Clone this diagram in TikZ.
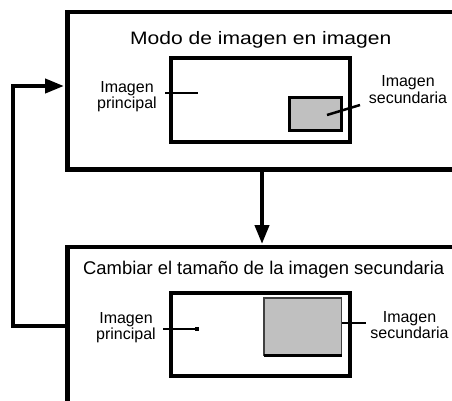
\documentclass[tikz,border=0pt]{standalone}
\usepackage{fontspec}
\usepackage{graphicx}
\setmainfont{Liberation Sans}
\usetikzlibrary{arrows.meta}
\definecolor{boxgrey}{HTML}{C0C0C0}
\begin{document}
\begin{tikzpicture}[x=1pt,y=-1pt,
  bigbox/.style={line width=4.5pt},
  inbox/.style={line width=4pt},
  lbl/.style={font=\fontsize{16}{16.5}\selectfont, align=center, inner sep=0pt},
  ttl/.style={inner sep=0pt, anchor=base west},
  conn/.style={line width=4pt, line join=miter, -{Triangle[length=19pt,width=14pt]}},
  ptr/.style={line width=2.5pt},
  thinptr/.style={line width=1.5pt}]
\useasboundingbox (0,0) rectangle (452,400);
\clip (0,0) rectangle (452,400);

% top big box
\draw[bigbox] (67.5,12) rectangle (480,169.5);
\node[ttl, font=\fontsize{18}{20}\selectfont] (t1) at (130,44) {\scalebox{1.17}[1]{Modo de imagen en imagen}};
\draw[inbox] (170.5,57.5) rectangle (350,141.5);
\draw[line width=3pt, fill=boxgrey] (289,97.5) rectangle (341,130);
\node[lbl] (p1) at (127,96.5) {Imagen\\principal};
\node[lbl] (s1) at (408,89.5) {Imagen\\secundaria};
\coordinate (p1a) at (165,93);
\coordinate (p1b) at (198,93);
\draw[ptr] (p1a) -- (p1b);
\coordinate (s1a) at (360,105);
\coordinate (s1b) at (327,115);
\draw[ptr] (s1a) -- (s1b);

% bottom big box
\draw[bigbox] (67.5,247) rectangle (480,420);
\node[ttl, font=\fontsize{18.4}{21}\selectfont] (t2) at (83,274) {Cambiar el tamaño de la imagen secundaria};
\draw[inbox] (171,293) rectangle (350,376);
\draw[draw=black!75, line width=1.5pt, fill=boxgrey] (264,298) rectangle (341.5,355.5);
\draw[line width=3.5pt] (263.5,355.5) -- (342,355.5);
\node[lbl] (p2) at (126,327.5) {Imagen\\principal};
\node[lbl] (s2) at (409.5,325.2) {Imagen\\secundaria};
\coordinate (p2a) at (163,329);
\coordinate (p2b) at (197,329);
\draw[thinptr] (p2a) -- (p2b);
\fill (p2b) ++(-2,-2) rectangle ++(4,4);
\coordinate (s2a) at (342,323);
\coordinate (s2b) at (366,323);
\draw[thinptr] (s2a) -- (s2b);

% connectors
\coordinate (topS) at (262,169.5);
\coordinate (botN) at (262,244);
\draw[conn] (topS) -- (botN);
\coordinate (botW) at (67.5,326);
\coordinate (topW) at (64,86);
\draw[conn] (botW) -- (13,326) -- (13,86) -- (topW);
\end{tikzpicture}
\end{document}
